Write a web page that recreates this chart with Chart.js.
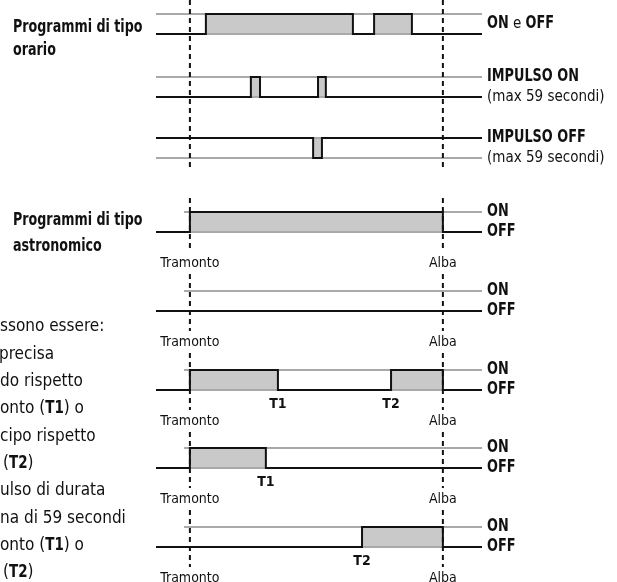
<!DOCTYPE html>
<html>
<head>
<meta charset="utf-8">
<script src="https://cdn.jsdelivr.net/npm/chart.js@4.4.1/dist/chart.umd.min.js"></script>
<style>
  html, body { margin: 0; padding: 0; background: #fff; }
  #wrap { width: 617px; height: 582px; position: relative; }
</style>
</head>
<body>
<div id="wrap"><canvas id="diagram"></canvas></div>
<script>
// time axis, arbitrary units over the drawn span
var xStart = 0;
var xEnd = 100;
var tramonto = 10.4;
var alba = 88.0;

// switching times, alternating: first = change from idle, second = back to idle
var orarioOnOff = [15.3, 60.4, 66.9, 78.5];
var impulsoOn = [29.1, 31.9, 49.7, 52.1];
var impulsoOff = [48.2, 50.9];
var astroNotte = [tramonto, alba];
var astroMai = [];
var astroT1T2 = [tramonto, 37.4, 72.1, alba];
var astroT1 = [tramonto, 33.7];
var astroT2 = [63.2, alba];

var FONT = '"Liberation Sans Narrow", "DejaVu Sans Condensed", Roboto, sans-serif';
var BLACK = '#111111';
var GREY = '#a9a9a9';
var FILL = '#c9c9c9';

// y is in "level" units (1 = distance between ON and OFF), growing downward
var rows = [
  { times: orarioOnOff, base: 1.7, dir: -1, refFrom: xStart },
  { times: impulsoOn, base: 4.85, dir: -1, refFrom: xStart },
  { times: impulsoOff, base: 6.9, dir: 1, refFrom: xStart },
  { times: astroNotte, base: 11.6, dir: -1, refFrom: 8.6, astro: true },
  { times: astroMai, base: 15.55, dir: -1, refFrom: 8.6, astro: true },
  { times: astroT1T2, base: 19.5, dir: -1, refFrom: 8.6, astro: true, tags: [[37.4, 'T1'], [72.1, 'T2']] },
  { times: astroT1, base: 23.4, dir: -1, refFrom: 8.6, astro: true, tags: [[33.7, 'T1']] },
  { times: astroT2, base: 27.35, dir: -1, refFrom: 8.6, astro: true, tags: [[63.2, 'T2']] }
];

function stepData(times, idle, active) {
  var pts = [{ x: xStart, y: idle }];
  var level = idle;
  times.forEach(function (t) {
    pts.push({ x: t, y: level });
    level = level === idle ? active : idle;
    pts.push({ x: t, y: level });
  });
  pts.push({ x: xEnd, y: level });
  return pts;
}

var datasets = [];
rows.forEach(function (r) {
  var active = r.base + r.dir;
  datasets.push({
    data: stepData(r.times, r.base, active),
    borderColor: BLACK, borderWidth: 2, backgroundColor: FILL,
    fill: { value: r.base }, order: 0
  });
  datasets.push({
    data: [{ x: r.refFrom, y: active }, { x: xEnd, y: active }],
    borderColor: GREY, borderWidth: 2, fill: false, order: 2
  });
  datasets.push({
    data: [{ x: xStart, y: r.base }, { x: xEnd, y: r.base }],
    borderColor: GREY, borderWidth: 2, fill: false, order: 2
  });
});

// dashed markers at sunset / sunrise, broken around the labels
function markerData(t) {
  var pts = [{ x: t, y: 0 }, { x: t, y: 8.55 }, { x: t, y: null }];
  var top = 9.9;
  rows.forEach(function (r) {
    if (!r.astro) return;
    var lab = r.base + 1.55;
    pts.push({ x: t, y: top }, { x: t, y: lab - 0.55 }, { x: t, y: null });
    top = lab + 0.55;
  });
  return pts;
}
[tramonto, alba].forEach(function (t) {
  datasets.push({
    data: markerData(t), borderColor: BLACK, borderWidth: 2,
    borderDash: [5, 4], fill: false, spanGaps: false, order: 1
  });
});

// parts: [text, bold]; bold text is squeezed to look condensed
function runs(ctx, x, y, parts, size, boldSize, squeeze) {
  parts.forEach(function (p) {
    var sx = p[1] ? squeeze : 1;
    ctx.font = p[1] ? 'bold ' + boldSize + 'px ' + FONT : size + 'px ' + FONT;
    ctx.save();
    ctx.translate(x, y);
    ctx.scale(sx, 1);
    ctx.fillText(p[0], 0, 0);
    ctx.restore();
    x += ctx.measureText(p[0]).width * sx;
  });
}

var textPlugin = {
  id: 'texts',
  afterDraw: function (chart) {
    var ctx = chart.ctx, xs = chart.scales.x, ys = chart.scales.y;
    var right = chart.chartArea.right + 5;
    ctx.save();
    ctx.fillStyle = BLACK;
    ctx.textAlign = 'left';

    ctx.textBaseline = 'alphabetic';
    runs(ctx, 13, 32, [['Programmi di tipo', true]], 17, 17, 0.83);
    runs(ctx, 13, 55, [['orario', true]], 17, 17, 0.83);
    runs(ctx, 13, 225, [['Programmi di tipo', true]], 17, 17, 0.83);
    runs(ctx, 13, 251, [['astronomico', true]], 17, 17, 0.83);

    ctx.textBaseline = 'middle';
    runs(ctx, right, ys.getPixelForValue(rows[0].base - 0.5), [['ON', true], [' e ', false], ['OFF', true]], 15, 17, 0.84);
    runs(ctx, right, ys.getPixelForValue(rows[1].base - 1), [['IMPULSO ON', true]], 15, 17, 0.84);
    runs(ctx, right, ys.getPixelForValue(rows[1].base), [['(max 59 secondi)', false]], 15, 17, 0.84);
    runs(ctx, right, ys.getPixelForValue(rows[2].base), [['IMPULSO OFF', true]], 15, 17, 0.84);
    runs(ctx, right, ys.getPixelForValue(rows[2].base + 1), [['(max 59 secondi)', false]], 15, 17, 0.84);

    rows.forEach(function (r) {
      if (!r.astro) return;
      runs(ctx, right, ys.getPixelForValue(r.base - 1), [['ON', true]], 15, 17, 0.84);
      runs(ctx, right, ys.getPixelForValue(r.base), [['OFF', true]], 15, 17, 0.84);
      ctx.textAlign = 'center';
      ctx.font = '14px ' + FONT;
      var ly = ys.getPixelForValue(r.base + 1.55);
      ctx.fillText('Tramonto', xs.getPixelForValue(tramonto), ly);
      ctx.fillText('Alba', xs.getPixelForValue(alba), ly);
      ctx.font = 'bold 14px ' + FONT;
      (r.tags || []).forEach(function (tg) {
        ctx.fillText(tg[1], xs.getPixelForValue(tg[0]), ys.getPixelForValue(r.base) + 14);
      });
      ctx.textAlign = 'left';
    });

    // side note, cut off at the left edge of the picture
    var note = [
      [0, [['ssono essere:', false]]],
      [-1, [['precisa', false]]],
      [0, [['do rispetto', false]]],
      [0, [['onto (', false], ['T1', true], [') o', false]]],
      [0, [['cipo rispetto', false]]],
      [3, [['(', false], ['T2', true], [')', false]]],
      [0, [['ulso di durata', false]]],
      [0, [['na di 59 secondi', false]]],
      [0, [['onto (', false], ['T1', true], [') o', false]]],
      [3, [['(', false], ['T2', true], [')', false]]]
    ];
    note.forEach(function (n, i) {
      runs(ctx, n[0], 327 + 27.3 * i, n[1], 17, 17, 0.88);
    });
    ctx.restore();
  }
};

new Chart(document.getElementById('diagram').getContext('2d'), {
  type: 'line',
  data: { datasets: datasets },
  plugins: [textPlugin],
  options: {
    responsive: true,
    maintainAspectRatio: false,
    animation: false,
    events: [],
    layout: { padding: { left: 156, right: 135, top: 0, bottom: 0 } },
    elements: {
      point: { radius: 0 },
      line: { tension: 0, borderCapStyle: 'butt', borderJoinStyle: 'miter' }
    },
    plugins: {
      legend: { display: false },
      tooltip: { enabled: false },
      filler: { drawTime: 'beforeDatasetsDraw' }
    },
    scales: {
      x: { type: 'linear', min: xStart, max: xEnd, display: false },
      y: { type: 'linear', min: 0, max: 29.1, reverse: true, display: false }
    }
  }
});
</script>
</body>
</html>
